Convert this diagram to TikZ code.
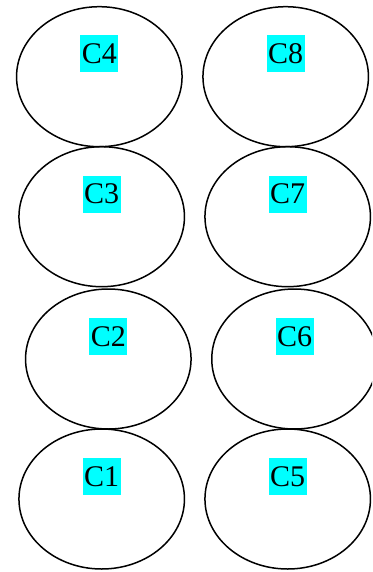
\documentclass[tikz,border=0pt]{standalone}
\usepackage{fontspec}
\setmainfont{Liberation Serif}
\usetikzlibrary{shapes.geometric}
\definecolor{aqua}{RGB}{0,255,255}
\begin{document}
\begin{tikzpicture}[x=1pt,y=-1pt,
  oval/.style={draw=black,line width=1.5pt,ellipse,inner sep=0pt,minimum width=165.5pt,minimum height=140pt},
  tag/.style={fill=aqua,inner sep=0pt,minimum width=38pt,minimum height=37pt,font=\fontsize{30}{30}\selectfont,anchor=center}]
\useasboundingbox (0,0) rectangle (372,572);
\begin{scope}
\clip (0,0) rectangle (372,572);
\node[oval] (c4) at (99.3,76.7) {};
\node[oval] (c8) at (285.7,76.7) {};
\node[oval] (c3) at (101.7,216.7) {};
\node[oval] (c7) at (287.7,216.7) {};
\node[oval] (c2) at (108.3,359) {};
\node[oval] (c6) at (294.5,359) {};
\node[oval] (c1) at (101.7,499) {};
\node[oval] (c5) at (287.7,499) {};
\end{scope}
\node[tag] (l4) at ([yshift=22.7pt]c4.center) {C4};
\node[tag] (l8) at ([yshift=22.7pt]c8.center) {C8};
\node[tag] (l3) at ([yshift=22.7pt]c3.center) {C3};
\node[tag] (l7) at ([yshift=22.7pt]c7.center) {C7};
\node[tag] (l2) at ([yshift=22.7pt]c2.center) {C2};
\node[tag] (l6) at ([yshift=22.7pt]c6.center) {C6};
\node[tag] (l1) at ([yshift=22.7pt]c1.center) {C1};
\node[tag] (l5) at ([yshift=22.7pt]c5.center) {C5};
\end{tikzpicture}
\end{document}
